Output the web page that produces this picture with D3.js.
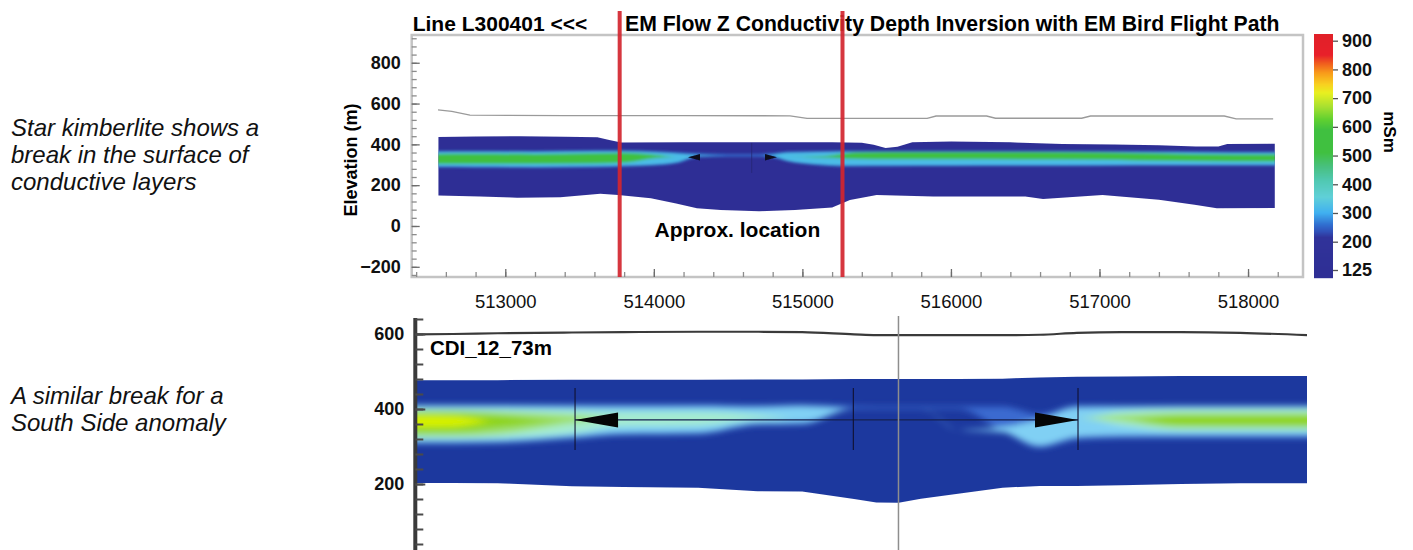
<!DOCTYPE html>
<html>
<head>
<meta charset="utf-8">
<script src="https://cdn.jsdelivr.net/npm/d3@7"></script>
<style>
  html, body { margin: 0; padding: 0; background: #fff; }
  svg { display: block; font-family: "Liberation Sans", Arial, Helvetica, sans-serif; }
</style>
</head>
<body>
<svg id="chart" width="1413" height="550"></svg>
<script>
// ===== Line L300401: EM Flow Z conductivity depth inversion (easting m, elevation m) =====
const sectionSurfaceE = [512550, 512800, 513100, 513400, 513620, 513700, 513780, 514200, 514700, 515200, 515400, 515480, 515560, 515640, 515740, 516000, 516400, 516750, 517100, 517400, 517650, 517800, 517860, 518180];
const sectionSurfaceZ = [436, 438, 440, 437, 435, 422, 409, 410, 411, 410, 408, 398, 382, 388, 411, 414, 410, 402, 399, 396, 390, 390, 402, 403];
const sectionBaseE = [512550, 512830, 513080, 513370, 513640, 513760, 513980, 514150, 514290, 514450, 514710, 514950, 515200, 515320, 515500, 515880, 516500, 516620, 517020, 517400, 517640, 517790, 518180];
const sectionBaseZ = [149, 144, 139, 141, 158, 152, 136, 110, 87, 78, 72, 78, 90, 127, 152, 144, 144, 132, 152, 128, 104, 87, 88];

// conductive layer outlines (mSm contour bands)
const layerE = [512500, 512800, 513200, 513600, 513800, 514000, 514150, 514300, 514500, 514700, 514790, 514900, 515100, 515250, 515350, 515600, 516000, 516500, 517000, 517500, 517900, 518230];
const layer250Top = [367, 368, 367, 370, 370, 366, 361, 356, 353, 353, 356, 364, 366, 368, 368, 368, 368, 368, 367, 365, 363, 363];
const layer250Bot = [288, 287, 286, 288, 292, 296, 306, 336, 339, 339, 336, 316, 298, 292, 292, 293, 294, 294, 295, 296, 296, 296];
const layer320Top = [364, 365, 364, 367, 367, 363, 357, 349, 346, 346, 349, 360, 363, 365, 365, 365, 365, 365, 364, 362, 360, 360];
const layer320Bot = [291, 290, 289, 291, 295, 300, 312, 343, 346, 346, 343, 320, 302, 296, 296, 297, 297, 298, 298, 299, 299, 299];
const layer540Top = [353, 354, 353, 357, 359, 349, 338, 338, 338, 338, 338, 338, 340, 352, 360, 362, 363, 362, 360, 354, 350, 350];
const layer540Bot = [304, 304, 304, 306, 310, 332, 338, 338, 338, 338, 338, 338, 336, 332, 328, 327, 327, 326, 325, 318, 316, 316];

// EM bird flight path
const flightE = [512547, 512640, 512762, 513400, 514200, 514917, 515031, 515840, 515900, 516240, 516300, 516880, 516940, 517840, 517920, 518169];
const flightZ = [569, 562, 543, 541, 541, 540, 527, 527, 539, 539, 528, 528, 539, 539, 525, 525];

const birdArrowE = [514230, 514829];
const birdArrowDir = [-1, 1];
const birdArrowZ = 337;
const fiducialE = 514659;
const fiducialZ = [407, 260];

const kimberliteBoundsE = [513770, 515270];

const xTicksMajor = [513000, 514000, 515000, 516000, 517000, 518000];
const yTicksMajor = [-200, 0, 200, 400, 600, 800];

// colour bar (mSm)
const colorbarTicks = [900, 800, 700, 600, 500, 400, 300, 200, 125];
const colorStopValues = [125, 215, 235, 260, 300, 355, 415, 460, 510, 590, 625, 670, 718, 748, 788, 822, 850, 925];
const colorStopHex = ['#2f2f95', '#30339a', '#3050b8', '#3070d0', '#40b0f0', '#60d0d8', '#50c8b0', '#48c080', '#40c040', '#40c040', '#60d030', '#a8e030', '#e8f020', '#f8d020', '#f89a1a', '#f05a1e', '#e8202a', '#e02028'];

// ===== CDI_12_73m section (distance along line m, elevation m) =====
const cdiDist = [0, 250, 550, 1050, 1400, 1900, 2300, 2600, 2950, 3100, 3250, 3400, 3650, 3950, 4200, 4450, 4750, 5150, 5550, 6000];
const cdiSurface = [477, 477, 477, 478, 478, 478, 479, 479, 480, 480, 480, 480, 480, 481, 484, 486, 487, 488, 488, 488];
const cdiBase = [203, 203, 202, 194, 192, 190, 181, 180, 160, 151, 150, 161, 174, 190, 195, 195, 197, 200, 202, 202];
const cdiFlightZ = [599, 600, 602, 604, 605, 606, 606, 605, 599, 597, 597, 597, 597, 597, 598, 603, 605, 605, 603, 597];

const cdi250Top = [412, 412, 412, 412, 412, 412, 410, 412, 408, 407, 407, 407, 407, 407, 386, 410, 409, 410, 410, 410];
const cdi250Bot = [306, 306, 308, 320, 330, 332, 356, 358, 401, 401, 401, 401, 401, 342, 296, 318, 322, 322, 322, 322];
const cdi330Top = [408, 408, 408, 407, 406, 407, 405, 408, 401, 401, 401, 401, 345, 352, 372, 404, 406, 406, 406, 406];
const cdi330Bot = [313, 313, 314, 326, 336, 338, 362, 364, 401, 401, 401, 401, 345, 338, 303, 326, 330, 331, 331, 331];
const cdi420Top = [400, 400, 399, 396, 392, 392, 385, 376, 376, 376, 376, 376, 376, 376, 376, 376, 394, 400, 400, 400];
const cdi420Bot = [322, 322, 324, 336, 355, 357, 372, 376, 376, 376, 376, 376, 376, 376, 376, 376, 356, 343, 343, 343];
const cdi520Top = [396, 396, 393, 384, 376, 376, 376, 376, 376, 376, 376, 376, 376, 376, 376, 376, 384, 390, 390, 390];
const cdi520Bot = [328, 328, 333, 362, 376, 376, 376, 376, 376, 376, 376, 376, 376, 376, 376, 376, 368, 350, 350, 350];
const cdi620Top = [390, 390, 383, 368, 368, 368, 368, 368, 368, 368, 368, 368, 368, 368, 368, 368, 368, 382, 382, 382];
const cdi620Bot = [337, 338, 350, 368, 368, 368, 368, 368, 368, 368, 368, 368, 368, 368, 368, 368, 368, 356, 355, 355];
const cdi700Top = [382, 381, 368, 368, 368, 368, 368, 368, 368, 368, 368, 368, 368, 368, 368, 368, 368, 368, 368, 368];
const cdi700Bot = [352, 353, 368, 368, 368, 368, 368, 368, 368, 368, 368, 368, 368, 368, 368, 368, 368, 368, 368, 368];

const cdiPaletteValues = [125, 250, 330, 420, 520, 620, 700];
const cdiPaletteHex = ['#1d399e', '#3b6bd0', '#80d0f4', '#a6ecd0', '#9ee072', '#8ed41a', '#d8f200'];

const cdiMarkers = [1071, 2945, 4458];
const cdiMarkerZ = [456, 291];
const cdiArrowDist = [1071, 4458];
const cdiArrowDir = [-1, 1];
const cdiBirdZ = 371;
const cdiGridDist = 3249;
const cdiGridZ = [648, 20];
const cdiYTicks = [200, 400, 600];

// ===== drawing =====
const svg = d3.select('#chart');
const defs = svg.append('defs');
defs.append('filter').attr('id', 'softTop').attr('x', '-5%').attr('y', '-50%').attr('width', '110%').attr('height', '200%')
  .append('feGaussianBlur').attr('stdDeviation', 1.4);
defs.append('filter').attr('id', 'softCdi').attr('x', '-5%').attr('y', '-50%').attr('width', '110%').attr('height', '200%')
  .append('feGaussianBlur').attr('stdDeviation', 3.2);
defs.append('filter').attr('id', 'edge').append('feGaussianBlur').attr('stdDeviation', 0.5);

const conductivity = d3.scaleLinear().domain(colorStopValues).range(colorStopHex).clamp(true);
const cdiColor = d3.scaleLinear().domain(cdiPaletteValues).range(cdiPaletteHex).clamp(true);

function sectionPath(xs, ys, topE, topZ, baseE, baseZ) {
  const pts = topE.map((e, i) => [xs(e), ys(topZ[i])])
    .concat(baseE.map((e, i) => [xs(e), ys(baseZ[i])]).reverse());
  return d3.line().curve(d3.curveLinearClosed)(pts);
}
function bandPath(xs, ys, pos, topZ, botZ) {
  const pts = pos.map((p, i) => [xs(p), ys(topZ[i]), ys(botZ[i])]);
  const a = pts[0], b = pts[pts.length - 1];
  pts.unshift([a[0] - 25, a[1], a[2]]);
  pts.push([b[0] + 25, b[1], b[2]]);
  return d3.area().x(d => d[0]).y1(d => d[1]).y0(d => d[2]).curve(d3.curveMonotoneX)(pts);
}
function styleAxis(g, color) {
  g.select('.domain').remove();
  g.selectAll('.tick line').attr('stroke', color).attr('stroke-width', 1.3);
}

// ---------- upper panel ----------
const xTop = d3.scaleLinear().domain([512370, 518370]).range([411.7, 1303]);
const yTop = d3.scaleLinear().domain([-250, 936]).range([277, 35]);

const upper = svg.append('g');
upper.append('rect').attr('x', 411.7).attr('y', 35).attr('width', 891.3).attr('height', 242)
  .attr('fill', '#fff').attr('stroke', '#c4c4c4').attr('stroke-width', 2.5);

const upperSection = sectionPath(xTop, yTop, sectionSurfaceE, sectionSurfaceZ, sectionBaseE, sectionBaseZ);
defs.append('clipPath').attr('id', 'clipTop').append('path').attr('d', upperSection);
upper.append('path').attr('d', upperSection).attr('fill', conductivity(125)).attr('filter', 'url(#edge)');
const upperBands = upper.append('g').attr('clip-path', 'url(#clipTop)').append('g').attr('filter', 'url(#softTop)');
[[250, layer250Top, layer250Bot], [320, layer320Top, layer320Bot], [540, layer540Top, layer540Bot]].forEach(([v, t, b]) => {
  upperBands.append('path').attr('d', bandPath(xTop, yTop, layerE, t, b)).attr('fill', conductivity(v));
});
upper.append('line')
  .attr('x1', xTop(fiducialE)).attr('x2', xTop(fiducialE))
  .attr('y1', yTop(fiducialZ[0])).attr('y2', yTop(fiducialZ[1]))
  .attr('stroke', '#24246e').attr('stroke-width', 1).attr('opacity', 0.7);
birdArrowE.forEach((e, i) => {
  const x = xTop(e), y = yTop(birdArrowZ), d = birdArrowDir[i];
  upper.append('path').attr('d', `M${x},${y} L${x - d * 12},${y - 3.2} L${x - d * 12},${y + 3.2} Z`)
    .attr('fill', '#0a0a1e').attr('filter', 'url(#edge)');
});
upper.append('path')
  .attr('d', d3.line().x(e => xTop(e)).y((e, i) => yTop(flightZ[i]))(flightE))
  .attr('fill', 'none').attr('stroke', '#9a9a9a').attr('stroke-width', 1.3);

// axes of the upper panel
const xMinor = upper.append('g').attr('transform', 'translate(0,277)')
  .call(d3.axisBottom(xTop).tickValues(d3.range(512400, 518370, 200)).tickSize(-5).tickFormat(''));
styleAxis(xMinor, '#8c8c8c');
const xMajor = upper.append('g').attr('transform', 'translate(0,277)')
  .call(d3.axisBottom(xTop).tickValues(xTicksMajor).tickSize(-8).tickPadding(18).tickFormat(d3.format('d')));
styleAxis(xMajor, '#6c6c6c');
xMajor.selectAll('text').attr('font-size', 18.5).attr('font-family', null).attr('fill', '#111');

const yMinor = upper.append('g').attr('transform', 'translate(411.7,0)')
  .call(d3.axisLeft(yTop).tickValues(d3.range(-240, 930, 40)).tickSize(-5).tickFormat(''));
styleAxis(yMinor, '#8c8c8c');
const yMajor = upper.append('g').attr('transform', 'translate(411.7,0)')
  .call(d3.axisLeft(yTop).tickValues(yTicksMajor).tickSize(-8).tickPadding(11));
styleAxis(yMajor, '#6c6c6c');
yMajor.selectAll('text').attr('font-size', 18).attr('font-weight', 'bold').attr('font-family', null).attr('fill', '#111');

upper.append('text').attr('transform', 'translate(357,160) rotate(-90)')
  .attr('text-anchor', 'middle').attr('font-size', 18).attr('font-weight', 'bold').text('Elevation (m)');

upper.append('text').attr('x', 412.7).attr('y', 31).attr('font-size', 21).attr('font-weight', 'bold').text('Line L300401 <<<');
upper.append('text').attr('x', 625).attr('y', 31).attr('font-size', 21.2).attr('font-weight', 'bold')
  .text('EM Flow Z Conductivity Depth Inversion with EM Bird Flight Path');

upper.append('text').attr('x', xTop(514005)).attr('y', yTop(-55)).attr('font-size', 21).attr('font-weight', 'bold')
  .text('Approx. location');

kimberliteBoundsE.forEach(e => {
  upper.append('line').attr('x1', xTop(e)).attr('x2', xTop(e)).attr('y1', 11).attr('y2', 277)
    .attr('stroke', '#d3262f').attr('stroke-width', 4).attr('opacity', 0.92);
});

// colour bar
const cbScale = d3.scaleLinear().domain([125, 200, 900]).range([270, 241.7, 40.7]);
const cb = svg.append('g');
d3.range(34, 278, 1).forEach(y => {
  cb.append('rect').attr('x', 1314).attr('y', y).attr('width', 19).attr('height', 1.2)
    .attr('fill', conductivity(cbScale.invert(y + 0.5)));
});
const cbAxis = cb.append('g').attr('transform', 'translate(1333,0)')
  .call(d3.axisRight(cbScale).tickValues(colorbarTicks).tickSize(5).tickPadding(4));
styleAxis(cbAxis, '#555');
cbAxis.selectAll('text').attr('font-size', 18).attr('font-weight', 'bold').attr('font-family', null).attr('fill', '#111');
cb.append('text').attr('transform', 'translate(1384,132) rotate(90)').attr('text-anchor', 'middle')
  .attr('font-size', 17).attr('font-weight', 'bold').text('mSm');

// ---------- lower panel ----------
const xCdi = d3.scaleLinear().domain([0, 6000]).range([416, 1307]);
const yCdi = d3.scaleLinear().domain([200, 600]).range([484, 334]);
const lower = svg.append('g');

const cdiSection = sectionPath(xCdi, yCdi, cdiDist, cdiSurface, cdiDist, cdiBase);
defs.append('clipPath').attr('id', 'clipCdi').append('path').attr('d', cdiSection);
lower.append('path').attr('d', cdiSection).attr('fill', cdiColor(125)).attr('filter', 'url(#edge)');
const cdiBands = lower.append('g').attr('clip-path', 'url(#clipCdi)').append('g').attr('filter', 'url(#softCdi)');
[[250, cdi250Top, cdi250Bot], [330, cdi330Top, cdi330Bot], [420, cdi420Top, cdi420Bot],
 [520, cdi520Top, cdi520Bot], [620, cdi620Top, cdi620Bot], [700, cdi700Top, cdi700Bot]].forEach(([v, t, b]) => {
  cdiBands.append('path').attr('d', bandPath(xCdi, yCdi, cdiDist, t, b)).attr('fill', cdiColor(v));
});

// flight path and bird markers
lower.append('path')
  .attr('d', d3.line().x(d => xCdi(d)).y((d, i) => yCdi(cdiFlightZ[i])).curve(d3.curveMonotoneX)(cdiDist))
  .attr('fill', 'none').attr('stroke', '#3a3a3a').attr('stroke-width', 2.2);
lower.append('line').attr('x1', xCdi(cdiArrowDist[0])).attr('x2', xCdi(cdiArrowDist[1]))
  .attr('y1', yCdi(cdiBirdZ)).attr('y2', yCdi(cdiBirdZ)).attr('stroke', '#142050').attr('stroke-width', 1.1);
cdiMarkers.forEach(d => {
  lower.append('line').attr('x1', xCdi(d)).attr('x2', xCdi(d))
    .attr('y1', yCdi(cdiMarkerZ[0])).attr('y2', yCdi(cdiMarkerZ[1]))
    .attr('stroke', '#101030').attr('stroke-width', 1.1);
});
cdiArrowDist.forEach((d, i) => {
  const x = xCdi(d), y = yCdi(cdiBirdZ), s = cdiArrowDir[i];
  lower.append('path').attr('d', `M${x},${y} L${x - s * 43},${y - 7.5} L${x - s * 43},${y + 7.5} Z`).attr('fill', '#050505');
});
lower.append('line').attr('x1', xCdi(cdiGridDist)).attr('x2', xCdi(cdiGridDist))
  .attr('y1', yCdi(cdiGridZ[0])).attr('y2', yCdi(cdiGridZ[1]))
  .attr('stroke', '#8e8e8e').attr('stroke-width', 1.5);

// elevation axis
lower.append('line').attr('x1', 415.3).attr('x2', 415.3).attr('y1', yCdi(643)).attr('y2', 550)
  .attr('stroke', '#3a3a3a').attr('stroke-width', 4);
const cdiMinor = lower.append('g').attr('transform', 'translate(415.3,0)')
  .call(d3.axisLeft(yCdi).tickValues(d3.range(40, 641, 40)).tickSize(-8).tickFormat(''));
styleAxis(cdiMinor, '#4a4a4a');
cdiMinor.selectAll('.tick line').attr('stroke-width', 2);
const cdiMajor = lower.append('g').attr('transform', 'translate(415.3,0)')
  .call(d3.axisLeft(yCdi).tickValues(cdiYTicks).tickSize(-10).tickPadding(11));
styleAxis(cdiMajor, '#4a4a4a');
cdiMajor.selectAll('.tick line').attr('stroke-width', 2);
cdiMajor.selectAll('text').attr('font-size', 18).attr('font-weight', 'bold').attr('font-family', null).attr('fill', '#111');

lower.append('text').attr('x', 430).attr('y', 355).attr('font-size', 20.5).attr('font-weight', 'bold').text('CDI_12_73m');

// ---------- side notes ----------
const notes = svg.append('g').attr('font-size', 24).attr('font-style', 'italic').attr('fill', '#111');
[['Star kimberlite shows a', 136], ['break in the surface of', 163], ['conductive layers', 190],
 ['A similar break for a', 404], ['South Side anomaly', 431]].forEach(([t, y]) => {
  notes.append('text').attr('x', 11).attr('y', y).text(t);
});
</script>
</body>
</html>
